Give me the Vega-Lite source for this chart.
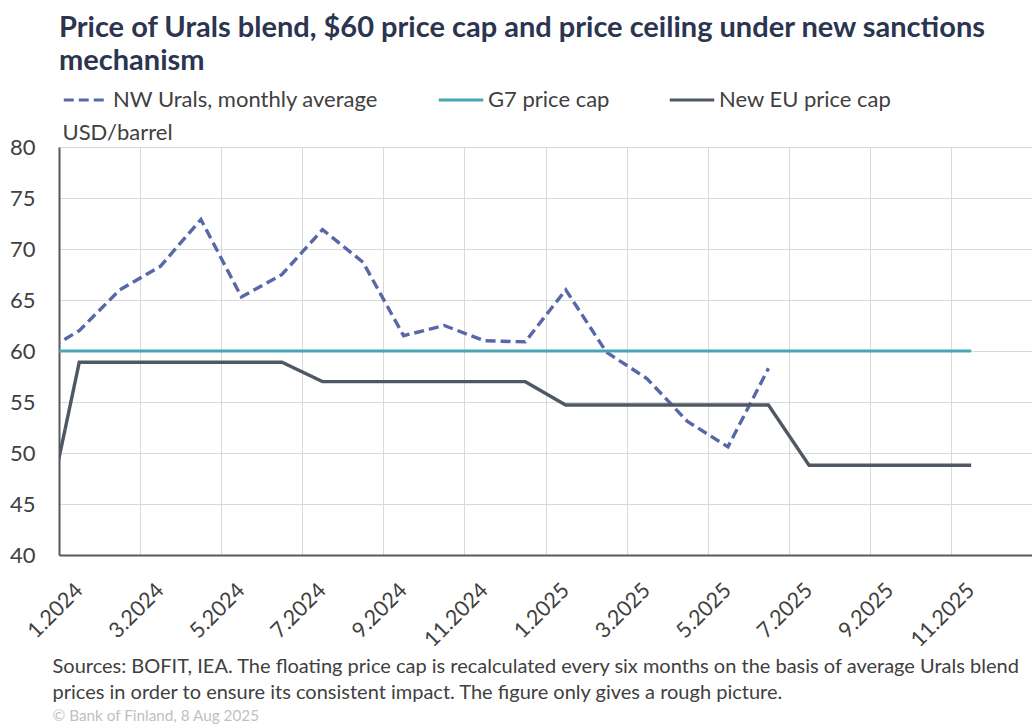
{
  "$schema": "https://vega.github.io/schema/vega-lite/v6.json",
  "width": 973,
  "height": 408,
  "autosize": {"type": "none"},
  "padding": {"left": 59, "top": 147, "right": 0, "bottom": 169},
  "background": "white",
  "config": {
    "font": "Lato",
    "view": {"stroke": null},
    "legend": {
      "orient": "none",
      "legendX": 3,
      "legendY": -71,
      "direction": "horizontal",
      "symbolType": "stroke",
      "symbolSize": 1980,
      "symbolStrokeWidth": 3,
      "labelFontSize": 22,
      "labelColor": "#404040",
      "labelLimit": 0,
      "columnPadding": 53,
      "labelOffset": 3,
      "padding": 0
    }
  },
  "title": {
    "text": ["Price of Urals blend, $60 price cap and price ceiling under new sanctions", "mechanism"],
    "anchor": "start",
    "frame": "group",
    "fontSize": 29,
    "fontWeight": "bold",
    "color": "#2b3550",
    "lineHeight": 33,
    "baseline": "top",
    "offset": 0,
    "dy": 0
  },
  "data": {
    "values": [
      {"m": 0, "series": "NW Urals, monthly average", "value": 59.6},
      {"m": 1, "series": "NW Urals, monthly average", "value": 62.0},
      {"m": 2, "series": "NW Urals, monthly average", "value": 66.0},
      {"m": 3, "series": "NW Urals, monthly average", "value": 68.3},
      {"m": 4, "series": "NW Urals, monthly average", "value": 72.9},
      {"m": 5, "series": "NW Urals, monthly average", "value": 65.3},
      {"m": 6, "series": "NW Urals, monthly average", "value": 67.5},
      {"m": 7, "series": "NW Urals, monthly average", "value": 71.9},
      {"m": 8, "series": "NW Urals, monthly average", "value": 68.7},
      {"m": 9, "series": "NW Urals, monthly average", "value": 61.5},
      {"m": 10, "series": "NW Urals, monthly average", "value": 62.5},
      {"m": 11, "series": "NW Urals, monthly average", "value": 61.0},
      {"m": 12, "series": "NW Urals, monthly average", "value": 60.9},
      {"m": 13, "series": "NW Urals, monthly average", "value": 66.0},
      {"m": 14, "series": "NW Urals, monthly average", "value": 59.9},
      {"m": 15, "series": "NW Urals, monthly average", "value": 57.3},
      {"m": 16, "series": "NW Urals, monthly average", "value": 53.1},
      {"m": 17, "series": "NW Urals, monthly average", "value": 50.6},
      {"m": 18, "series": "NW Urals, monthly average", "value": 58.3},
      {"m": 0, "series": "New EU price cap", "value": 40.1},
      {"m": 1, "series": "New EU price cap", "value": 58.9},
      {"m": 2, "series": "New EU price cap", "value": 58.9},
      {"m": 3, "series": "New EU price cap", "value": 58.9},
      {"m": 4, "series": "New EU price cap", "value": 58.9},
      {"m": 5, "series": "New EU price cap", "value": 58.9},
      {"m": 6, "series": "New EU price cap", "value": 58.9},
      {"m": 7, "series": "New EU price cap", "value": 57.0},
      {"m": 8, "series": "New EU price cap", "value": 57.0},
      {"m": 9, "series": "New EU price cap", "value": 57.0},
      {"m": 10, "series": "New EU price cap", "value": 57.0},
      {"m": 11, "series": "New EU price cap", "value": 57.0},
      {"m": 12, "series": "New EU price cap", "value": 57.0},
      {"m": 13, "series": "New EU price cap", "value": 54.7},
      {"m": 14, "series": "New EU price cap", "value": 54.7},
      {"m": 15, "series": "New EU price cap", "value": 54.7},
      {"m": 16, "series": "New EU price cap", "value": 54.7},
      {"m": 17, "series": "New EU price cap", "value": 54.7},
      {"m": 18, "series": "New EU price cap", "value": 54.7},
      {"m": 19, "series": "New EU price cap", "value": 48.8},
      {"m": 20, "series": "New EU price cap", "value": 48.8},
      {"m": 21, "series": "New EU price cap", "value": 48.8},
      {"m": 22, "series": "New EU price cap", "value": 48.8},
      {"m": 23, "series": "New EU price cap", "value": 48.8},
      {"m": 0, "series": "G7 price cap", "value": 60},
      {"m": 1, "series": "G7 price cap", "value": 60},
      {"m": 2, "series": "G7 price cap", "value": 60},
      {"m": 3, "series": "G7 price cap", "value": 60},
      {"m": 4, "series": "G7 price cap", "value": 60},
      {"m": 5, "series": "G7 price cap", "value": 60},
      {"m": 6, "series": "G7 price cap", "value": 60},
      {"m": 7, "series": "G7 price cap", "value": 60},
      {"m": 8, "series": "G7 price cap", "value": 60},
      {"m": 9, "series": "G7 price cap", "value": 60},
      {"m": 10, "series": "G7 price cap", "value": 60},
      {"m": 11, "series": "G7 price cap", "value": 60},
      {"m": 12, "series": "G7 price cap", "value": 60},
      {"m": 13, "series": "G7 price cap", "value": 60},
      {"m": 14, "series": "G7 price cap", "value": 60},
      {"m": 15, "series": "G7 price cap", "value": 60},
      {"m": 16, "series": "G7 price cap", "value": 60},
      {"m": 17, "series": "G7 price cap", "value": 60},
      {"m": 18, "series": "G7 price cap", "value": 60},
      {"m": 19, "series": "G7 price cap", "value": 60},
      {"m": 20, "series": "G7 price cap", "value": 60},
      {"m": 21, "series": "G7 price cap", "value": 60},
      {"m": 22, "series": "G7 price cap", "value": 60},
      {"m": 23, "series": "G7 price cap", "value": 60}
    ]
  },
  "encoding": {
    "y": {
      "field": "value",
      "type": "quantitative",
      "scale": {"domain": [40, 80], "nice": false, "zero": false},
      "axis": {
        "values": [40, 45, 50, 55, 60, 65, 70, 75, 80],
        "grid": true,
        "gridColor": "#d9d9d9",
        "gridWidth": 1,
        "domain": true,
        "domainColor": "#595959",
        "domainWidth": 2,
        "ticks": false,
        "labelFontSize": 22,
        "labelColor": "#404040",
        "labelPadding": 24,
        "title": "USD/barrel",
        "titleAngle": 0,
        "titleAlign": "left",
        "titleBaseline": "alphabetic",
        "titleX": 3,
        "titleY": -8,
        "titleFontSize": 22,
        "titleFontWeight": "normal",
        "titleColor": "#404040"
      }
    },
    "color": {
      "field": "series",
      "type": "nominal",
      "title": null,
      "scale": {
        "domain": ["NW Urals, monthly average", "G7 price cap", "New EU price cap"],
        "range": ["#5867a8", "#47a6b5", "#4f5864"]
      }
    },
    "strokeDash": {
      "field": "series",
      "type": "nominal",
      "title": null,
      "scale": {
        "domain": ["NW Urals, monthly average", "G7 price cap", "New EU price cap"],
        "range": [[10, 5], [1, 0], [1, 0]]
      }
    }
  },
  "layer": [
    {
      "transform": [{"filter": "datum.series !== 'G7 price cap'"}],
      "mark": {"type": "line", "strokeWidth": 3.4, "clip": true},
      "encoding": {
        "x": {
          "field": "m",
          "type": "quantitative",
          "scale": {"domain": [0.5, 24.5], "nice": false, "zero": false},
          "axis": {
            "orient": "bottom",
            "values": [0.5, 2.5, 4.5, 6.5, 8.5, 10.5, 12.5, 14.5, 16.5, 18.5, 20.5, 22.5, 24.5],
            "grid": true,
            "gridColor": "#d9d9d9",
            "gridWidth": 1,
            "labels": false,
            "ticks": false,
            "domain": true,
            "domainColor": "#595959",
            "domainWidth": 2,
            "title": ["Sources: BOFIT, IEA. The floating price cap is recalculated every six months on the basis of average Urals blend", "prices in order to ensure its consistent impact. The figure only gives a rough picture."],
            "titleX": -7,
            "titleY": 117,
            "titleAlign": "left",
            "titleAnchor": "start",
            "titleBaseline": "alphabetic",
            "titleFontSize": 20,
            "titleFontWeight": "normal",
            "titleColor": "#404040",
            "titleLineHeight": 26
          }
        }
      }
    },
    {
      "transform": [{"filter": "datum.series === 'G7 price cap'"}],
      "mark": {"type": "line", "strokeWidth": 3, "clip": true},
      "encoding": {
        "x": {
          "field": "m",
          "type": "quantitative",
          "scale": {"domain": [0.5, 24.5], "nice": false, "zero": false},
          "axis": {
            "orient": "bottom",
            "values": [1, 3, 5, 7, 9, 11, 13, 15, 17, 19, 21, 23],
            "labelExpr": "((datum.value - 1) % 12 + 1) + '.' + (2024 + floor((datum.value - 1) / 12))",
            "grid": false,
            "ticks": false,
            "domain": false,
            "labelAngle": -45,
            "labelAlign": "right",
            "labelBaseline": "middle",
            "labelFontSize": 21.5,
            "labelColor": "#404040",
            "labelPadding": 32,
            "labelOverlap": false,
            "labelBound": false,
            "title": "© Bank of Finland, 8 Aug 2025",
            "titleX": -7,
            "titleY": 165,
            "titleAlign": "left",
            "titleAnchor": "start",
            "titleBaseline": "alphabetic",
            "titleFontSize": 15.3,
            "titleFontWeight": "normal",
            "titleColor": "#c0c0c0"
          }
        }
      }
    }
  ],
  "resolve": {"axis": {"x": "independent"}}
}
